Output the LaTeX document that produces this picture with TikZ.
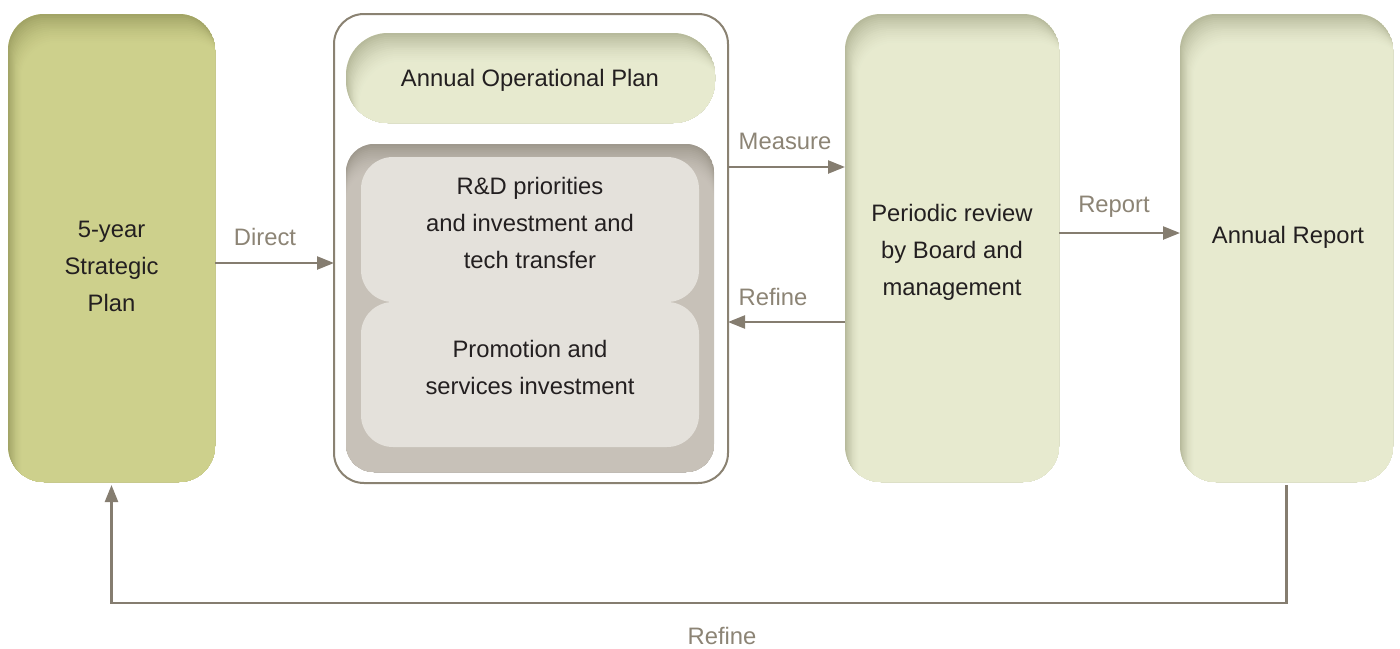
\documentclass[tikz,border=0pt]{standalone}
\usepackage{fontspec}
\setmainfont{Liberation Sans}
\usetikzlibrary{arrows.meta}

\definecolor{ink}{HTML}{231F20}
\definecolor{lineclr}{HTML}{857D70}
\definecolor{labelclr}{HTML}{8C8475}
\definecolor{olivefill}{HTML}{CDD08C}
\definecolor{olivetop}{HTML}{A2A466}
\definecolor{palefill}{HTML}{E7EACF}
\definecolor{paletop}{HTML}{B7BA9C}
\definecolor{greyfill}{HTML}{C7C1B8}
\definecolor{greytop}{HTML}{9F998E}
\definecolor{innerfill}{HTML}{E4E1DB}
\definecolor{frameclr}{HTML}{8A8272}

% inner shadow of a rounded panel: stacked copies of the panel shape, each
% moved a little further down (and right), blending from shadow to fill colour
% #1 node, #2 corner radius, #3 fill, #4 shadow colour, #5 sideways step
\newcommand\panelshade[5]{%
  \begin{scope}
    \clip[rounded corners=#2] (#1.north west) rectangle (#1.south east);
    \foreach \i in {0,...,16}{%
      \pgfmathtruncatemacro\pmix{100*(1-\i/16)^1.6}%
      \pgfmathsetmacro\dx{#5*\i}%
      \pgfmathsetmacro\dy{1.9*\i}%
      \fill[#4!\pmix!#3, rounded corners=#2]
        ([xshift=\dx pt, yshift=-\dy pt]#1.north west) rectangle
        ([xshift=\dx pt, yshift=-\dy pt]#1.south east);
    }
  \end{scope}}

\tikzset{
  panel/.style={draw=none, inner sep=0pt, outer sep=0pt},
  boxtext/.style={inner sep=0pt, align=center, text=ink,
    font=\fontsize{23.8}{37}\selectfont},
  flowlabel/.style={inner sep=0pt, text=labelclr,
    font=\fontsize{23.8}{28}\selectfont},
  arr/.style={draw=lineclr, line width=2.4pt,
    -{Triangle[length=17pt,width=13pt]}},
}

\begin{document}
\begin{tikzpicture}[x=1pt, y=-1pt]
\useasboundingbox (0,0) rectangle (1400,648);

% strategic plan
\node[panel, fill=olivefill, rounded corners=36pt,
  minimum width=207pt, minimum height=468pt] (strat) at (111.5,248) {};
\panelshade{strat}{36pt}{olivefill}{olivetop}{0.9}
\node[boxtext] (strattext) at (111.5,266) {5-year\\Strategic\\Plan};

% operational plan frame
\node[panel, draw=frameclr, line width=2pt, fill=white, rounded corners=30pt,
  minimum width=394pt, minimum height=469pt] (frame) at (531,248.5) {};
\node[panel, fill=palefill, rounded corners=42pt,
  minimum width=369pt, minimum height=90pt] (aop) at (530.5,78) {};
\panelshade{aop}{42pt}{palefill}{paletop}{0.9}
\node[boxtext] (aoptext) at (530,80) {Annual Operational Plan};

\node[panel, fill=greyfill, rounded corners=28pt,
  minimum width=368pt, minimum height=328pt] (invest) at (530,308) {};
\panelshade{invest}{28pt}{greyfill}{greytop}{0}
\node[panel, fill=innerfill, rounded corners=32pt,
  minimum width=338pt, minimum height=145pt] (rd) at (530,229.5) {};
\node[boxtext] (rdtext) at (530,223) {R\&D priorities\\and investment and\\tech transfer};
\node[panel, fill=innerfill, rounded corners=32pt,
  minimum width=338pt, minimum height=145pt] (promo) at (530,374.5) {};
\node[boxtext] (promotext) at (530,367) {Promotion and\\services investment};

% review and report
\node[panel, fill=palefill, rounded corners=36pt,
  minimum width=214pt, minimum height=468pt] (review) at (952,248) {};
\panelshade{review}{36pt}{palefill}{paletop}{0.9}
\node[boxtext] (reviewtext) at (952,252) {Periodic review\\by Board and\\management};
\node[panel, fill=palefill, rounded corners=36pt,
  minimum width=213pt, minimum height=468pt] (report) at (1286.5,248) {};
\panelshade{report}{36pt}{palefill}{paletop}{0.9}
\node[boxtext] (reporttext) at (1288,237) {Annual Report};

% connectors
\draw[arr] (strat.east |- 0,263) -- (frame.west |- 0,263);
\draw[arr] (frame.east |- 0,167) -- (review.west |- 0,167);
\draw[arr] (review.west |- 0,322) -- (frame.east |- 0,322);
\draw[arr] (review.east |- 0,233) -- (report.west |- 0,233);
\draw[arr] ([yshift=-3pt]report.south) -- ++(0,118) -| ([yshift=-3pt]strat.south);

% connector labels
\node[flowlabel] (ldirect) at (265,237) {Direct};
\node[flowlabel] (lmeasure) at (785,141) {Measure};
\node[flowlabel] (lrefine) at (773,297) {Refine};
\node[flowlabel] (lreport) at (1114,207) {Report};
\node[flowlabel] (lrefine2) at (722,636) {Refine};
\end{tikzpicture}
\end{document}
